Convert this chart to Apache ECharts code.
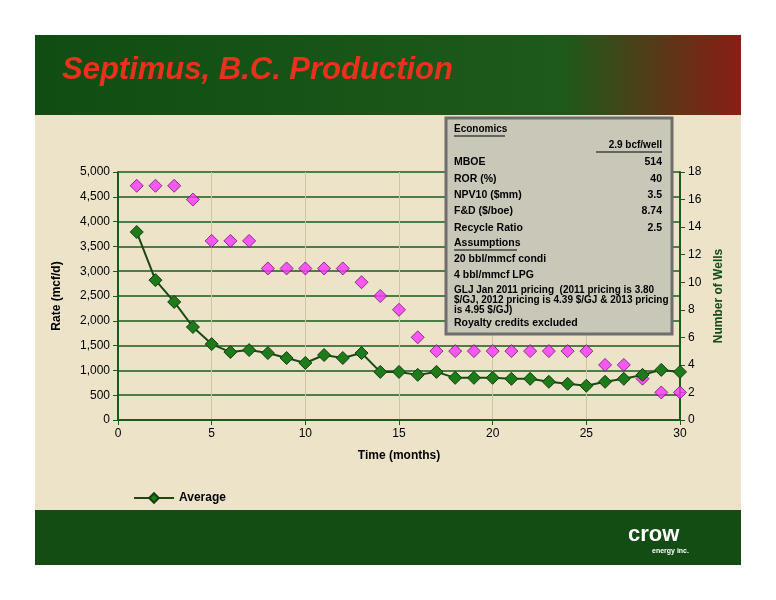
<!DOCTYPE html>
<html><head><meta charset="utf-8">
<script src="https://cdn.jsdelivr.net/npm/echarts@6/dist/echarts.min.js"></script>
<style>html,body{margin:0;padding:0;background:#fff}#c{width:776px;height:600px}</style>
</head><body><div id="c"></div>
<script>
const months = [1,2,3,4,5,6,7,8,9,10,11,12,13,14,15,16,17,18,19,20,21,22,23,24,25,26,27,28,29,30];
const averageRate = [3790,2820,2380,1875,1530,1370,1410,1350,1250,1150,1310,1250,1350,970,970,910,970,850,850,850,830,830,770,730,690,770,830,910,1010,970];
const wellCount = [17,17,17,16,13,13,13,11,11,11,11,11,10,9,8,6,5,5,5,5,5,5,5,5,5,4,4,3,2,2];
const econLines = [
 ['MBOE','514'],['ROR (%)','40'],['NPV10 ($mm)','3.5'],['F&D ($/boe)','8.74'],['Recycle Ratio','2.5']
];
const assumptions = ['20 bbl/mmcf condi','4 bbl/mmcf LPG'];

const chart = echarts.init(document.getElementById('c'));
const F = 'Liberation Sans, Arial, sans-serif';
const gfx = [
 {type:'rect',z:-10,shape:{x:35,y:35,width:706,height:530},style:{fill:'#ece3c9'}},
 {type:'rect',z:-9,shape:{x:35,y:35,width:706,height:80},style:{fill:new echarts.graphic.LinearGradient(0,0,1,0,[{offset:0,color:'#0f4d12'},{offset:0.75,color:'#1e5a1a'},{offset:1,color:'#8a1d14'}])}},
 {type:'rect',z:-9,shape:{x:35,y:510,width:706,height:55},style:{fill:'#134d14'}},
 {type:'text',left:62,top:55,style:{text:'Septimus, B.C. Production',font:'italic bold 31px '+F,fill:'#e8321e',shadowColor:'#000',shadowOffsetX:2,shadowOffsetY:2,shadowBlur:1}},
 {type:'text',left:628,top:524,style:{text:'crow',font:'bold 22px '+F,fill:'#fff'}},
 {type:'text',left:652,top:548,style:{text:'energy inc.',font:'bold 7px '+F,fill:'#fff'}},
 {type:'rect',z:50,shape:{x:446,y:118,width:226,height:216},style:{fill:'#c9c7b8',stroke:'#6e6e6e',lineWidth:3}},
 {type:'text',z:51,left:454,top:124,style:{text:'Economics',font:'bold 10px '+F,fill:'#000'}},
 {type:'line',z:51,shape:{x1:454,y1:136,x2:505,y2:136},style:{stroke:'#000',lineWidth:1}},
 {type:'text',z:51,right:114,top:140,style:{text:'2.9 bcf/well',font:'bold 10px '+F,fill:'#000'}},
 {type:'line',z:51,shape:{x1:596,y1:152,x2:662,y2:152},style:{stroke:'#000',lineWidth:1}},
];
econLines.forEach((r,i)=>{
 gfx.push({type:'text',z:51,left:454,top:157+i*16.3,style:{text:r[0],font:'bold 10.5px '+F,fill:'#000'}});
 gfx.push({type:'text',z:51,right:114,top:157+i*16.3,style:{text:r[1],font:'bold 10.5px '+F,fill:'#000'}});
});
gfx.push({type:'text',z:51,left:454,top:238,style:{text:'Assumptions',font:'bold 10.5px '+F,fill:'#000'}});
gfx.push({type:'line',z:51,shape:{x1:454,y1:250,x2:517,y2:250},style:{stroke:'#000',lineWidth:1}});
assumptions.forEach((t,i)=>gfx.push({type:'text',z:51,left:454,top:254+i*16,style:{text:t,font:'bold 10.5px '+F,fill:'#000'}}));
gfx.push({type:'text',z:51,left:454,top:285,style:{text:'GLJ Jan 2011 pricing  (2011 pricing is 3.80\n$/GJ, 2012 pricing is 4.39 $/GJ & 2013 pricing\nis 4.95 $/GJ)',font:'bold 10px '+F,fill:'#000',lineHeight:10}});
gfx.push({type:'text',z:51,left:454,top:318,style:{text:'Royalty credits excluded',font:'bold 10.5px '+F,fill:'#000'}});

chart.setOption({
 animation:false,
 grid:{left:118,right:96,top:172,bottom:180},
 graphic:gfx,
 legend:{data:['Average'],left:128,top:487,itemWidth:40,itemHeight:12,textStyle:{fontFamily:F,fontWeight:'bold',fontSize:12,color:'#000'}},
 xAxis:{type:'value',min:0,max:30,interval:5,name:'Time (months)',nameLocation:'middle',nameGap:30,
  nameTextStyle:{fontFamily:F,fontWeight:'bold',fontSize:12,color:'#000'},
  axisLine:{lineStyle:{color:'#1a5a1a',width:2}},axisTick:{show:true,lineStyle:{color:'#1a5a1a'}},
  axisLabel:{fontFamily:F,fontSize:12,color:'#000'},splitLine:{show:true,lineStyle:{color:'#cfc5a6',width:1}}},
 yAxis:[
  {type:'value',min:0,max:5000,interval:500,name:'Rate (mcf/d)',nameLocation:'middle',nameGap:55,
   nameTextStyle:{fontFamily:F,fontWeight:'bold',fontSize:12,color:'#000'},
   axisLine:{show:true,lineStyle:{color:'#1a5a1a',width:2}},axisTick:{show:true,lineStyle:{color:'#1a5a1a'}},
   axisLabel:{fontFamily:F,fontSize:12,color:'#000',formatter:v=>v.toLocaleString('en-US')},
   splitLine:{lineStyle:{color:'#1a5a1a',width:1.5}}},
  {type:'value',min:0,max:18,interval:2,name:'Number of Wells',nameLocation:'middle',nameGap:30,
   nameTextStyle:{fontFamily:F,fontWeight:'bold',fontSize:12,color:'#1a4a1a'},
   axisLine:{show:true,lineStyle:{color:'#1a5a1a',width:2}},axisTick:{show:true,lineStyle:{color:'#1a5a1a'}},
   axisLabel:{fontFamily:F,fontSize:12,color:'#000'},splitLine:{show:false}}
 ],
 series:[
  {name:'Average',type:'line',data:months.map((m,i)=>[m,averageRate[i]]),symbol:'diamond',symbolSize:13,
   lineStyle:{color:'#1a4a14',width:2},itemStyle:{color:'#1f7a1a',borderColor:'#0f3f0f',borderWidth:1}},
  {name:'Wells',type:'scatter',yAxisIndex:1,data:months.map((m,i)=>[m,wellCount[i]]),symbol:'diamond',symbolSize:13,
   itemStyle:{color:'#ff33ff',borderColor:'#6a1a6a',borderWidth:1}}
 ]
});
</script></body></html>
